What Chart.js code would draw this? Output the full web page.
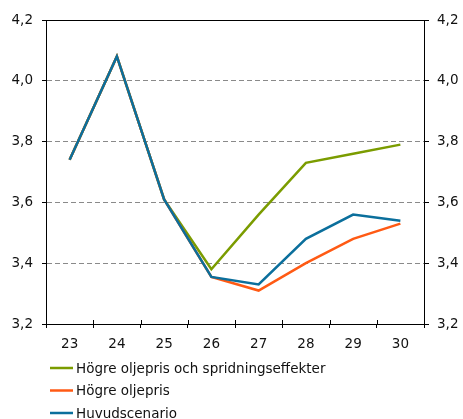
<!DOCTYPE html>
<html>
<head>
<meta charset="utf-8">
<script src="https://cdn.jsdelivr.net/npm/chart.js@4"></script>
<style>
html,body{margin:0;padding:0;background:#fff;}
#wrap{width:463px;height:419px;position:relative;}
</style>
</head>
<body>
<div id="wrap"><canvas id="c" width="463" height="419"></canvas></div>
<script>
const categories = ['23', '24', '25', '26', '27', '28', '29', '30'];
const seriesNames = ['Högre oljepris och spridningseffekter', 'Högre oljepris', 'Huvudscenario'];
const hogreOljeprisSpridning = [3.74, 4.08, 3.61, 3.38, 3.56, 3.73, 3.76, 3.79];
const hogreOljepris = [3.74, 4.08, 3.61, 3.355, 3.31, 3.40, 3.48, 3.53];
const huvudscenario = [3.74, 4.08, 3.61, 3.355, 3.33, 3.48, 3.56, 3.54];
const yTicks = [3.2, 3.4, 3.6, 3.8, 4.0, 4.2];
const seriesColors = ['#7b9c00', '#ff5a14', '#0b6f9c'];

const FONT = {family: 'DejaVu Sans', size: 13.5};
const near = (a, b) => Math.abs(a - b) < 1e-6;
const fmt = v => v.toFixed(1).replace('.', ',');

const legendPlugin = {
  id: 'listLegend',
  afterDraw(chart) {
    const ctx = chart.ctx;
    ctx.save();
    ctx.font = '13.5px "DejaVu Sans"';
    ctx.textBaseline = 'middle';
    ctx.textAlign = 'left';
    chart.data.datasets.forEach((ds, i) => {
      const y = 368 + i * 22.5;
      ctx.strokeStyle = ds.borderColor;
      ctx.lineWidth = 2.5;
      ctx.beginPath();
      ctx.moveTo(50, y);
      ctx.lineTo(73, y);
      ctx.stroke();
      ctx.fillStyle = '#111';
      ctx.fillText(ds.label, 76, y + 1);
    });
    ctx.restore();
  }
};

const crossTicks = {
  id: 'crossTicks',
  afterDraw(chart) {
    const sx = chart.scales.x;
    const ca = chart.chartArea;
    const ctx = chart.ctx;
    ctx.save();
    ctx.strokeStyle = '#000';
    ctx.lineWidth = 1;
    for (let i = 1; i < categories.length; i++) {
      const x = Math.round((sx.getPixelForValue(i - 1) + sx.getPixelForValue(i)) / 2) + 0.5;
      ctx.beginPath();
      ctx.moveTo(x, ca.bottom - 4);
      ctx.lineTo(x, ca.bottom);
      ctx.stroke();
    }
    ctx.restore();
  }
};

new Chart(document.getElementById('c'), {
  type: 'line',
  data: {
    labels: categories,
    datasets: [
      {label: seriesNames[0], data: hogreOljeprisSpridning, borderColor: seriesColors[0], order: 2},
      {label: seriesNames[1], data: hogreOljepris, borderColor: seriesColors[1], order: 1},
      {label: seriesNames[2], data: huvudscenario, borderColor: seriesColors[2], order: 0}
    ].map(d => Object.assign(d, {borderWidth: 2.5, pointRadius: 0, tension: 0, fill: false, backgroundColor: d.borderColor}))
  },
  options: {
    responsive: false,
    animation: false,
    layout: {padding: {top: 20, left: 0, right: 0, bottom: 0}},
    plugins: {legend: {display: false}, tooltip: {enabled: false}, title: {display: false}},
    scales: {
      x: {
        type: 'category',
        offset: true,
        grid: {offset: true, drawOnChartArea: false, drawTicks: true, tickLength: 4, tickColor: '#000', color: '#000'},
        border: {display: true, color: '#000', width: 1},
        ticks: {color: '#111', font: FONT, padding: 8, maxRotation: 0, autoSkip: false},
        afterFit(s) { s.height = 95; }
      },
      y: {
        position: 'left',
        min: 3.2, max: 4.2,
        afterBuildTicks(s) { s.ticks = yTicks.map(v => ({value: v})); },
        grid: {
          color: c => (near(c.tick.value, 4.2) || near(c.tick.value, 3.2)) ? '#000' : '#8a8a8a',
          tickColor: '#000', tickLength: 4, lineWidth: 1
        },
        border: {display: true, color: '#000', width: 1, dash: c => (c.tick && (near(c.tick.value, 4.2) || near(c.tick.value, 3.2))) ? [] : [5, 3]},
        ticks: {color: '#111', font: FONT, padding: 9, callback: v => fmt(v)},
        afterFit(s) { s.width = 46; }
      },
      y2: {
        position: 'right',
        min: 3.2, max: 4.2,
        afterBuildTicks(s) { s.ticks = yTicks.map(v => ({value: v})); },
        grid: {drawOnChartArea: false, tickColor: '#000', tickLength: 5},
        border: {display: true, color: '#000', width: 1},
        ticks: {color: '#111', font: FONT, padding: 8, callback: v => fmt(v)},
        afterFit(s) { s.width = 39; }
      }
    }
  },
  plugins: [legendPlugin, crossTicks]
});
</script>
</body>
</html>
